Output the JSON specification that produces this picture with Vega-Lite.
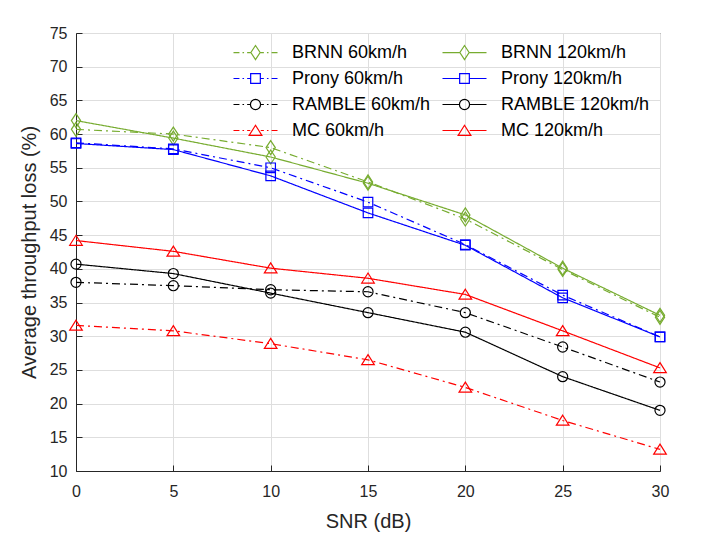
{
  "$schema": "https://vega.github.io/schema/vega-lite/v6.json",
  "width": 584,
  "height": 438,
  "autosize": "none",
  "padding": {"left": 76, "top": 33, "right": 43, "bottom": 88},
  "background": "white",
  "config": {
    "view": {"stroke": "#262626", "strokeWidth": 1},
    "font": "Liberation Sans",
    "axis": {
      "labelFont": "Liberation Sans",
      "titleFont": "Liberation Sans",
      "labelFontSize": 16,
      "titleFontSize": 20,
      "titleFontWeight": "normal",
      "labelColor": "#262626",
      "titleColor": "#262626",
      "domainColor": "#262626",
      "tickColor": "#262626",
      "gridColor": "#dedede",
      "gridWidth": 1,
      "grid": true,
      "labelFlush": false
    }
  },
  "data": {
    "values": [
      {"snr": 0, "series": "BRNN 60km/h", "loss": 60.7},
      {"snr": 5, "series": "BRNN 60km/h", "loss": 60.0},
      {"snr": 10, "series": "BRNN 60km/h", "loss": 58.0},
      {"snr": 15, "series": "BRNN 60km/h", "loss": 52.9},
      {"snr": 20, "series": "BRNN 60km/h", "loss": 47.4},
      {"snr": 25, "series": "BRNN 60km/h", "loss": 39.9},
      {"snr": 30, "series": "BRNN 60km/h", "loss": 32.8},
      {"snr": 0, "series": "BRNN 120km/h", "loss": 62.0},
      {"snr": 5, "series": "BRNN 120km/h", "loss": 59.4},
      {"snr": 10, "series": "BRNN 120km/h", "loss": 56.6},
      {"snr": 15, "series": "BRNN 120km/h", "loss": 52.7},
      {"snr": 20, "series": "BRNN 120km/h", "loss": 48.0},
      {"snr": 25, "series": "BRNN 120km/h", "loss": 40.1},
      {"snr": 30, "series": "BRNN 120km/h", "loss": 33.1},
      {"snr": 0, "series": "Prony 60km/h", "loss": 58.7},
      {"snr": 5, "series": "Prony 60km/h", "loss": 57.8},
      {"snr": 10, "series": "Prony 60km/h", "loss": 55.0},
      {"snr": 15, "series": "Prony 60km/h", "loss": 49.9},
      {"snr": 20, "series": "Prony 60km/h", "loss": 43.6},
      {"snr": 25, "series": "Prony 60km/h", "loss": 36.1},
      {"snr": 30, "series": "Prony 60km/h", "loss": 29.9},
      {"snr": 0, "series": "Prony 120km/h", "loss": 58.6},
      {"snr": 5, "series": "Prony 120km/h", "loss": 57.7},
      {"snr": 10, "series": "Prony 120km/h", "loss": 53.8},
      {"snr": 15, "series": "Prony 120km/h", "loss": 48.3},
      {"snr": 20, "series": "Prony 120km/h", "loss": 43.5},
      {"snr": 25, "series": "Prony 120km/h", "loss": 35.7},
      {"snr": 30, "series": "Prony 120km/h", "loss": 29.9},
      {"snr": 0, "series": "RAMBLE 60km/h", "loss": 38.0},
      {"snr": 5, "series": "RAMBLE 60km/h", "loss": 37.5},
      {"snr": 10, "series": "RAMBLE 60km/h", "loss": 36.9},
      {"snr": 15, "series": "RAMBLE 60km/h", "loss": 36.6},
      {"snr": 20, "series": "RAMBLE 60km/h", "loss": 33.5},
      {"snr": 25, "series": "RAMBLE 60km/h", "loss": 28.4},
      {"snr": 30, "series": "RAMBLE 60km/h", "loss": 23.2},
      {"snr": 0, "series": "RAMBLE 120km/h", "loss": 40.7},
      {"snr": 5, "series": "RAMBLE 120km/h", "loss": 39.3},
      {"snr": 10, "series": "RAMBLE 120km/h", "loss": 36.4},
      {"snr": 15, "series": "RAMBLE 120km/h", "loss": 33.5},
      {"snr": 20, "series": "RAMBLE 120km/h", "loss": 30.6},
      {"snr": 25, "series": "RAMBLE 120km/h", "loss": 24.0},
      {"snr": 30, "series": "RAMBLE 120km/h", "loss": 19.0},
      {"snr": 0, "series": "MC 60km/h", "loss": 31.6},
      {"snr": 5, "series": "MC 60km/h", "loss": 30.8},
      {"snr": 10, "series": "MC 60km/h", "loss": 28.9},
      {"snr": 15, "series": "MC 60km/h", "loss": 26.5},
      {"snr": 20, "series": "MC 60km/h", "loss": 22.4},
      {"snr": 25, "series": "MC 60km/h", "loss": 17.5},
      {"snr": 30, "series": "MC 60km/h", "loss": 13.2},
      {"snr": 0, "series": "MC 120km/h", "loss": 44.2},
      {"snr": 5, "series": "MC 120km/h", "loss": 42.6},
      {"snr": 10, "series": "MC 120km/h", "loss": 40.1},
      {"snr": 15, "series": "MC 120km/h", "loss": 38.6},
      {"snr": 20, "series": "MC 120km/h", "loss": 36.2},
      {"snr": 25, "series": "MC 120km/h", "loss": 30.8},
      {"snr": 30, "series": "MC 120km/h", "loss": 25.3}
    ]
  },
  "encoding": {
    "x": {
      "field": "snr", "type": "quantitative",
      "scale": {"domain": [0, 30], "nice": false},
      "axis": {"title": "SNR (dB)", "values": [0, 5, 10, 15, 20, 25, 30], "tickSize": -6, "labelPadding": 18, "titlePadding": 12}
    },
    "y": {
      "field": "loss", "type": "quantitative",
      "scale": {"domain": [10, 75], "nice": false, "zero": false},
      "axis": {"title": "Average throughput loss (%)", "values": [10, 15, 20, 25, 30, 35, 40, 45, 50, 55, 60, 65, 70, 75], "tickSize": -6, "labelPadding": 15, "titlePadding": 10}
    },
    "color": {
      "field": "series", "type": "nominal",
      "scale": {
        "domain": ["BRNN 60km/h", "BRNN 120km/h", "Prony 60km/h", "Prony 120km/h", "RAMBLE 60km/h", "RAMBLE 120km/h", "MC 60km/h", "MC 120km/h"],
        "range": ["#77AC30", "#77AC30", "#0000FF", "#0000FF", "#000000", "#000000", "#FF0000", "#FF0000"]
      },
      "legend": null
    }
  },
  "resolve": {"scale": {"shape": "independent", "color": "independent"}},
  "layer": [
    {
      "mark": {"type": "line", "strokeWidth": 1.2},
      "encoding": {
        "strokeDash": {
          "field": "series", "type": "nominal", "legend": null,
          "scale": {
            "domain": ["BRNN 60km/h", "BRNN 120km/h", "Prony 60km/h", "Prony 120km/h", "RAMBLE 60km/h", "RAMBLE 120km/h", "MC 60km/h", "MC 120km/h"],
            "range": [[8, 4, 2, 4], [1, 0], [8, 4, 2, 4], [1, 0], [8, 4, 2, 4], [1, 0], [8, 4, 2, 4], [1, 0]]
          }
        }
      }
    },
    {
      "mark": {"type": "point", "filled": false, "strokeWidth": 1.2, "size": 196, "opacity": 1},
      "encoding": {
        "shape": {
          "field": "series", "type": "nominal", "legend": null,
          "scale": {
            "domain": ["BRNN 60km/h", "BRNN 120km/h", "Prony 60km/h", "Prony 120km/h", "RAMBLE 60km/h", "RAMBLE 120km/h", "MC 60km/h", "MC 120km/h"],
            "range": [
              "M0,-1L0.66,0L0,1L-0.66,0Z",
              "M0,-1L0.66,0L0,1L-0.66,0Z",
              "M-0.68,-0.68H0.68V0.68H-0.68Z",
              "M-0.68,-0.68H0.68V0.68H-0.68Z",
              "M0.72,0A0.72,0.72,0,1,1,-0.72,0A0.72,0.72,0,1,1,0.72,0Z",
              "M0.72,0A0.72,0.72,0,1,1,-0.72,0A0.72,0.72,0,1,1,0.72,0Z",
              "M0,-0.75L0.9,0.68L-0.9,0.68Z",
              "M0,-0.75L0.9,0.68L-0.9,0.68Z"
            ]
          }
        }
      }
    },
    {
      "transform": [{"filter": "false"}],
      "mark": {"type": "point", "filled": false, "strokeWidth": 1.2, "size": 625, "opacity": 1},
      "encoding": {
        "color": {
          "field": "series", "type": "nominal",
          "scale": {
            "domain": ["BRNN 60km/h", "BRNN 120km/h", "Prony 60km/h", "Prony 120km/h", "RAMBLE 60km/h", "RAMBLE 120km/h", "MC 60km/h", "MC 120km/h"],
            "range": ["#77AC30", "#77AC30", "#0000FF", "#0000FF", "#000000", "#000000", "#FF0000", "#FF0000"]
          },
          "legend": {
            "title": null,
            "orient": "none",
            "direction": "horizontal",
            "legendX": 166,
            "legendY": 6,
            "columns": 2,
            "padding": 0,
            "rowPadding": 3,
            "columnPadding": 9,
            "symbolSize": 625,
            "symbolStrokeWidth": 1.2,
            "labelOffset": 23,
            "labelFont": "Liberation Sans",
            "labelFontSize": 18,
            "labelColor": "#000000",
            "labelLimit": 300
          }
        },
        "shape": {
          "field": "series", "type": "nominal",
          "scale": {
            "domain": ["BRNN 60km/h", "BRNN 120km/h", "Prony 60km/h", "Prony 120km/h", "RAMBLE 60km/h", "RAMBLE 120km/h", "MC 60km/h", "MC 120km/h"],
            "range": [
              "M-1.76,0H-1.285M-1.04,0H-0.915M-0.67,0H-0.37M0.37,0H0.67M0.915,0H1.04M1.285,0H1.76M0,-0.563L0.37,0L0,0.563L-0.37,0Z",
              "M-1.76,0H-0.37M0.37,0H1.76M0,-0.563L0.37,0L0,0.563L-0.37,0Z",
              "M-1.76,0H-1.285M-1.04,0H-0.915M-0.67,0H-0.387M0.387,0H0.67M0.915,0H1.04M1.285,0H1.76M-0.387,-0.387H0.387V0.387H-0.387Z",
              "M-1.76,0H-0.387M0.387,0H1.76M-0.387,-0.387H0.387V0.387H-0.387Z",
              "M-1.76,0H-1.285M-1.04,0H-0.915M-0.67,0H-0.405M0.405,0H0.67M0.915,0H1.04M1.285,0H1.76M0.405,0A0.405,0.405,0,1,1,-0.405,0A0.405,0.405,0,1,1,0.405,0Z",
              "M-1.76,0H-0.405M0.405,0H1.76M0.405,0A0.405,0.405,0,1,1,-0.405,0A0.405,0.405,0,1,1,0.405,0Z",
              "M-1.76,0H-1.285M-1.04,0H-0.915M-0.67,0H-0.42M0.42,0H0.67M0.915,0H1.04M1.285,0H1.76M0,-0.42L0.51,0.387L-0.51,0.387Z",
              "M-1.76,0H-0.42M0.42,0H1.76M0,-0.42L0.51,0.387L-0.51,0.387Z"
            ]
          },
          "legend": {
            "title": null,
            "orient": "none",
            "direction": "horizontal",
            "legendX": 166,
            "legendY": 6,
            "columns": 2,
            "padding": 0,
            "rowPadding": 3,
            "columnPadding": 9,
            "symbolSize": 625,
            "symbolStrokeWidth": 1.2,
            "labelOffset": 23,
            "labelFont": "Liberation Sans",
            "labelFontSize": 18,
            "labelColor": "#000000",
            "labelLimit": 300
          }
        }
      }
    }
  ]
}
